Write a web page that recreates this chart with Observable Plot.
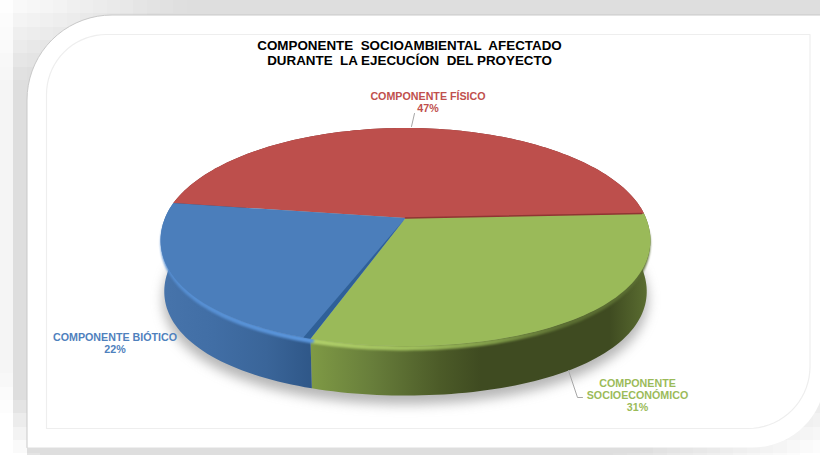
<!DOCTYPE html>
<html lang="es">
<head>
<meta charset="utf-8">
<style>
  html, body { margin: 0; padding: 0; background: #fff; }
  svg { display: block; }
</style>
<script src="https://cdn.jsdelivr.net/npm/d3@7"></script>
<script src="https://cdn.jsdelivr.net/npm/@observablehq/plot@0.6"></script>
</head>
<body>
<div id="chart"></div>
<script>
const categories = ["COMPONENTE FÍSICO", "COMPONENTE SOCIOECONÓMICO", "COMPONENTE BIÓTICO"];
const shares = [47, 31, 22];
const labelBreaks = ["COMPONENTE FÍSICO", "COMPONENTE\nSOCIOECONÓMICO", "COMPONENTE BIÓTICO"];
const topColors = ["#bd4f4c", "#9aba59", "#4b7ebb"];
const rimColors = ["#bd4f4c", "url(#rimGreen)", "url(#rimBlue)"];
const wallFills = ["#7c2f2d", "url(#wallGreen)", "url(#wallBlue)"];
const labelColors = ["#c0504d", "#9bbb59", "#4f81bd"];
const titleLines = "COMPONENTE  SOCIOAMBIENTAL  AFECTADO\nDURANTE  LA EJECUCÍON  DEL PROYECTO";

const W = 820, H = 455;

// Tilted disc: a circle seen through a simple perspective, hub nearer the back edge.
// The front half swells slightly on its diagonals, giving the rounded lens of the 3D pie.
const disc = {cx: 405, cy: 217.5, a: 240.5, b: 105.7, k: 0.174, depth: 51.5, foot: 0.985, swell: 0.02};
const DEG = Math.PI / 180;
function project(angle, r = 1, lower = false) {
  const front = Math.cos(angle) < 0 ? disc.swell * Math.sin(2 * angle) ** 2 : 0;
  const ux = r * (1 + front) * Math.sin(angle), uy = -r * (1 + front) * Math.cos(angle);
  const w = 1 - disc.k * uy, s = lower ? disc.foot : 1;
  return {
    px: disc.cx + s * disc.a * ux / w,
    py: disc.cy + (lower ? disc.depth : 0) + s * disc.b * uy / w
  };
}

const slices = d3.pie().sort(null).startAngle(278.3 * DEG).endAngle((278.3 + 360) * DEG)(shares)
  .map((s, i) => ({...s, i}));

function arcAngles(s) {
  const n = Math.max(2, Math.ceil((s.endAngle - s.startAngle) / (1.5 * DEG)));
  return d3.range(n + 1).map((j) => s.startAngle + (s.endAngle - s.startAngle) * j / n);
}
const tag = (pts, i) => pts.map((p) => ({...p, i}));

const faceRows = slices.flatMap((s) =>
  tag([project(0, 0), ...arcAngles(s).map((t) => project(t))], s.i));
const wallRows = slices.flatMap((s) => {
  const as = arcAngles(s);
  return tag([...as.map((t) => project(t)), ...as.slice().reverse().map((t) => project(t, 1, true))], s.i);
});
// The bevel only shows along the front of the disc, where the wall is in view;
// it sits just inside the rim and drops onto the wall.
const isFront = (t) => {
  const d = (t / DEG) % 360;
  return d >= 95 && d <= 268;
};
const rimRows = slices.slice(1).flatMap((s) =>
  tag(arcAngles(s).filter(isFront).map((t) => {
    const p = project(t, 0.99);
    return {px: p.px, py: p.py + 3.5};
  }), s.i));
const footRows = d3.range(0, 361, 3).map((d) => {
  const p = project(d * DEG, 1.005, true);
  return {px: p.px, py: p.py + 8};
});
// Cut faces where a slice meets its neighbour on the hub side.
const redCut = [project(0, 0), project(slices[1].startAngle, 0.99)];
const blueCut = [project(0, 0), project(slices[2].startAngle, 1), project(slices[2].startAngle + 1.5 * DEG, 1)];

// Soft grey tiled surround, lightening towards two opposite corners.
const clamp = (v) => Math.max(0, Math.min(1, v));
const tileSize = 40 / 3;
const tiles = d3.cross(d3.range(Math.ceil(W / tileSize)), d3.range(Math.ceil(H / tileSize))).map(([c, r]) => {
  const x = (c + 0.5) * tileSize, y = (r + 0.5) * tileSize;
  const lead = clamp(x / 200 + y / 90) * (c === 0 ? 0.3 : 1);
  const tail = clamp((W - x) / 200 + (H - y) / 90);
  const low = clamp((x - 20) / 15 + (H - y) / 60 + (c === 0 ? 0.3 : 0));
  const g = Math.round(255 - 33 * lead * tail * low);
  return {x1: c * tileSize, x2: (c + 1) * tileSize, y1: r * tileSize, y2: (r + 1) * tileSize, g: `rgb(${g},${g},${g})`};
});

// Rectangle outline with two rounded corners, top-left and bottom-right.
function panel(x0, y0, x1, y1, rA, rB) {
  const pts = [{px: x0, py: y1}];
  d3.range(0, 91, 5).forEach((d) => pts.push({px: x0 + rA - rA * Math.cos(d * DEG), py: y0 + rA - rA * Math.sin(d * DEG)}));
  pts.push({px: x1, py: y0});
  d3.range(0, 91, 5).forEach((d) => pts.push({px: x1 - rB + rB * Math.cos(d * DEG), py: y1 - rB + rB * Math.sin(d * DEG)}));
  return pts;
}
const outerPanel = panel(26.5, 14.5, 825, 447, 85, 73);

function gradients() {
  const defs = d3.create("svg:defs");
  const add = (id, stops) => {
    const g = defs.append("linearGradient").attr("id", id).attr("x1", 0).attr("x2", 1).attr("y1", 0).attr("y2", 0);
    stops.forEach(([o, c]) => g.append("stop").attr("offset", o).attr("stop-color", c));
  };
  add("wallBlue", [[0, "#4774ab"], [0.35, "#416ea5"], [0.7, "#3a6599"], [1, "#2f5788"]]);
  add("wallGreen", [[0, "#7f9a45"], [0.18, "#687e3b"], [0.38, "#4c5b28"], [0.5, "#3f4b21"], [0.88, "#3f4b21"], [1, "#5d7032"]]);
  add("rimBlue", [[0, "#558dd0"], [1, "#5b96dc"]]);
  add("rimGreen", [[0, "#b0cf6a"], [0.3, "#a0c05d"], [0.55, "#7f9a48"], [0.75, "#5c6f33"], [1, "#5a6d32"]]);
  return defs.node();
}

const leaderRows = [
  ...tag([{px: 414, py: 113}, {px: 411, py: 126}], 0),
  ...tag([{px: 568, py: 370}, {px: 577, py: 397}, {px: 582, py: 397}], 1)
];
const labelRows = slices.map((s) => ({
  text: `${labelBreaks[s.i]}\n${s.data}%`,
  name: categories[s.i],
  color: labelColors[s.i],
  px: [427.5, 637, 114.5][s.i],
  py: [102, 394.5, 343][s.i]
}));

const fp = {x: "px", y: "py"};
const plot = Plot.plot({
  width: W, height: H,
  margin: 0,
  x: {type: "linear", domain: [0, W], range: [0, W], axis: null},
  y: {type: "linear", domain: [0, H], range: [0, H], axis: null},
  color: {type: "identity"},
  style: {background: "#fff", fontFamily: "'Liberation Sans', Arial, sans-serif"},
  marks: [
    gradients,
    Plot.rect(tiles, {x1: "x1", x2: "x2", y1: "y1", y2: "y2", fill: "g", shapeRendering: "crispEdges"}),
    Plot.line(outerPanel, {...fp, curve: "linear-closed", fill: "#fff", stroke: "none"}),
    // Faint edge along the left and top of the panel only.
    Plot.line(outerPanel.slice(0, 21), {...fp, stroke: "#c9c9c9", strokeWidth: 1}),
    Plot.line(panel(46, 34, 809.5, 428, 60, 62), {...fp, curve: "linear-closed", fill: "#fff", stroke: "#eeeeee", strokeWidth: 1.2}),

    // Ground shadow, side walls, then the top faces over them.
    Plot.line(footRows, {...fp, curve: "linear-closed", fill: "#6e6e6e", stroke: "none", fillOpacity: 0.5, imageFilter: "blur(6px)"}),
    Plot.line(wallRows, {...fp, z: "i", curve: "linear-closed", fill: (d) => wallFills[d.i], stroke: "none"}),
    Plot.line(rimRows, {...fp, z: "i", stroke: (d) => rimColors[d.i], strokeWidth: 5, imageFilter: "blur(0.8px)"}),
    Plot.line(faceRows, {...fp, z: "i", curve: "linear-closed", fill: (d) => topColors[d.i], stroke: "none"}),
    Plot.line(redCut, {...fp, stroke: "#8f3533", strokeWidth: 1.6}),
    Plot.line(blueCut, {...fp, curve: "linear-closed", fill: "#2f6098", stroke: "none"}),

    Plot.line(leaderRows, {...fp, z: "i", stroke: "#a6a6a6", strokeWidth: 1}),
    Plot.text(labelRows, {...fp, text: "text", fill: "color", fontSize: 10.7, fontWeight: 700, lineHeight: 1.13, lineAnchor: "middle", textAnchor: "middle", title: "name"}),
    Plot.text([titleLines], {x: () => 409, y: () => 52.5, text: (d) => d, fill: "#000", fontSize: 13.4, fontWeight: 700, lineHeight: 1.13, lineAnchor: "middle", textAnchor: "middle"})
  ]
});
document.getElementById("chart").append(plot);
</script>
</body>
</html>
